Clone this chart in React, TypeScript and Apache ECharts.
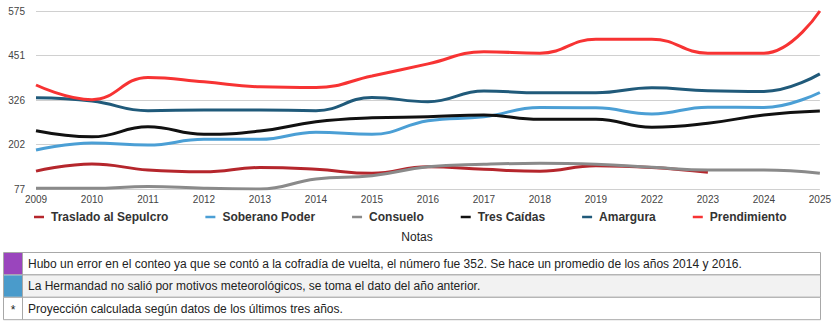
import React, { useEffect, useRef } from "react";
import * as echarts from "echarts";

const years = ["2009", "2010", "2011", "2012", "2013", "2014", "2015", "2016", "2017", "2018", "2019", "2022", "2023", "2024", "2025"];
const traslado = [127, 147, 130, 125, 137, 132, 121, 139, 132, 127, 142, 137, 124, null, null];
const soberano = [186, 206, 200, 216, 216, 236, 230, 268, 279, 305, 304, 287, 306, 305, 347];
const consuelo = [79, 79, 84, 79, 77, 105, 114, 139, 146, 149, 146, 138, 130, 130, 121];
const tresCaidas = [240, 223, 251, 230, 239, 265, 276, 279, 284, 272, 272, 250, 261, 284, 295];
const amargura = [332, 323, 296, 298, 298, 296, 333, 321, 351, 346, 346, 360, 352, 350, 399];
const prendimiento = [368, 327, 389, 377, 363, 361, 393, 427, 461, 457, 496, 496, 457, 457, 575];

const seriesNames = ["Traslado al Sepulcro", "Soberano Poder", "Consuelo", "Tres Caídas", "Amargura", "Prendimiento"];
const seriesData = [traslado, soberano, consuelo, tresCaidas, amargura, prendimiento];
const seriesColors = ["#b5262c", "#4b9fd5", "#8a8a8a", "#111111", "#205a7a", "#f73333"];

const notesTitle = "Notas";
const notes = [
  "Hubo un error en el conteo ya que se contó a la cofradía de vuelta, el número fue 352. Se hace un promedio de los años 2014 y 2016.",
  "La Hermandad no salió por motivos meteorológicos, se toma el dato del año anterior.",
  "Proyección calculada según datos de los últimos tres años.",
];
const noteMarkers = ["#9a45bd", "#4a9bcb", "*"];

const FONT = "'Liberation Sans', Arial, Helvetica, sans-serif";

export default function App() {
  const ref = useRef<HTMLDivElement>(null);
  useEffect(() => {
    if (!ref.current) return;
    const chart = echarts.init(ref.current, null, { renderer: "svg" });

    const rowTop = 252.5;
    const rowH = 22.4;
    const tableLeft = 3.5;
    const tableRight = 820.5;
    const markerW = 19;
    const graphics: any[] = [
      {
        type: "text",
        x: 417,
        y: 237,
        style: { text: notesTitle, font: `12px ${FONT}`, fill: "#222", align: "center", verticalAlign: "middle" },
      },
    ];
    notes.forEach((n, i) => {
      const y = rowTop + i * rowH;
      graphics.push({
        type: "rect",
        shape: { x: tableLeft, y, width: tableRight - tableLeft, height: rowH },
        style: { fill: i === 1 ? "#f2f2f2" : "#ffffff", stroke: "#a8a8a8", lineWidth: 1 },
      });
      const m = noteMarkers[i];
      if (m.startsWith("#")) {
        graphics.push({
          type: "rect",
          shape: { x: tableLeft + 0.5, y: y + 0.5, width: markerW - 1, height: rowH - 1 },
          style: { fill: m },
        });
      } else {
        graphics.push({
          type: "text",
          x: tableLeft + markerW / 2,
          y: y + rowH / 2 + 1,
          style: { text: m, font: `12px ${FONT}`, fill: "#222", align: "center", verticalAlign: "middle" },
        });
      }
      graphics.push({
        type: "line",
        shape: { x1: tableLeft + markerW, y1: y, x2: tableLeft + markerW, y2: y + rowH },
        style: { stroke: "#a8a8a8", lineWidth: 1 },
      });
      graphics.push({
        type: "text",
        x: 28,
        y: y + rowH / 2,
        style: { text: n, font: `12px ${FONT}`, fill: "#222", align: "left", verticalAlign: "middle" },
      });
    });

    chart.setOption({
      animation: false,
      backgroundColor: "#ffffff",
      textStyle: { fontFamily: FONT },
      grid: { left: 36, right: 14, top: 11, bottom: 133, containLabel: false },
      legend: {
        left: 29,
        top: 206,
        itemGap: 37,
        itemWidth: 10,
        itemHeight: 2.5,
        icon: "rect",
        textStyle: { fontSize: 12, fontWeight: "bold", color: "#333", padding: [0, 0, 0, 2], fontFamily: FONT },
        data: seriesNames,
      },
      xAxis: {
        type: "category",
        data: years,
        boundaryGap: false,
        axisLine: { show: false },
        axisTick: { show: false },
        splitLine: { show: false },
        axisLabel: { fontSize: 10, color: "#444", margin: 5, interval: 0, fontFamily: FONT },
      },
      yAxis: {
        type: "value",
        min: 77,
        max: 575,
        interval: 124.5,
        axisLine: { show: false },
        axisTick: { show: false },
        splitLine: { lineStyle: { color: "#d0d0d0", width: 1 } },
        axisLabel: {
          fontSize: 10,
          color: "#444",
          margin: 11,
          fontFamily: FONT,
          formatter: (v: number) => String(Math.round(v)),
        },
      },
      series: seriesNames.map((name, i) => ({
        name,
        type: "line",
        data: seriesData[i],
        smooth: 0.45,
        showSymbol: false,
        symbol: "none",
        connectNulls: false,
        lineStyle: { width: 3, color: seriesColors[i] },
        itemStyle: { color: seriesColors[i] },
      })),
      graphic: graphics,
    });
    return () => chart.dispose();
  }, []);
  return <div ref={ref} style={{ position: "fixed", left: 0, top: 0, width: 834, height: 322 }} />;
}
